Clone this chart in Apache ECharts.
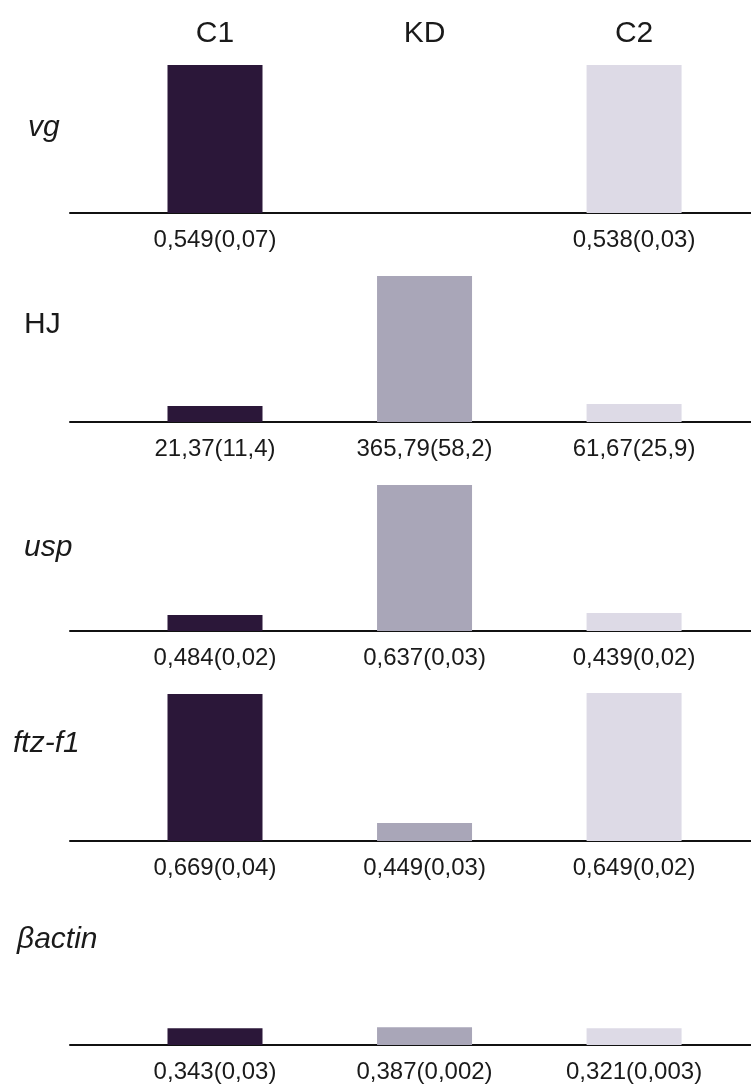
<!DOCTYPE html>
<html>
<head>
<meta charset="utf-8">
<script src="https://cdn.jsdelivr.net/npm/echarts@6/dist/echarts.min.js"></script>
<style>
  html, body { margin: 0; padding: 0; background: #ffffff; }
  #chart { width: 751px; height: 1084px; }
</style>
</head>
<body>
<div id="chart"></div>
<script>
// Sample groups (columns) and genes (rows)
const categories = ['C1', 'KD', 'C2'];
const genes = ['vg', 'HJ', 'usp', 'ftz-f1', 'βactin'];
const geneItalic = [true, false, true, true, true];

// Relative band levels per gene (C1, KD, C2); null = no band
const vgLevels = [100, null, 100];
const hjLevels = [10.8, 98.6, 12.2];
const uspLevels = [10.8, 98.6, 12.2];
const ftzLevels = [99.3, 12.2, 100];
const actinLevels = [11.5, 12.2, 11.5];

// Mean (SD) printed under each band
const vgLabels = ['0,549(0,07)', '', '0,538(0,03)'];
const hjLabels = ['21,37(11,4)', '365,79(58,2)', '61,67(25,9)'];
const uspLabels = ['0,484(0,02)', '0,637(0,03)', '0,439(0,02)'];
const ftzLabels = ['0,669(0,04)', '0,449(0,03)', '0,649(0,02)'];
const actinLabels = ['0,343(0,03)', '0,387(0,002)', '0,321(0,003)'];

const levels = [vgLevels, hjLevels, uspLevels, ftzLevels, actinLevels];
const labels = [vgLabels, hjLabels, uspLabels, ftzLabels, actinLabels];

const barColors = ['#2b1739', '#a9a6b8', '#dddae6'];

// Layout of the five panels
const baselines = [213, 422, 631, 841, 1048];
const panelHeight = 148;
const geneLabelY = [130, 327, 550, 746, 942];
const geneLabelX = [28, 24, 24, 13, 17];
const xMin = -0.692, xMax = 2.558;
const labelFont = 'Liberation Sans, Arial, sans-serif';

const chart = echarts.init(document.getElementById('chart'), null, { renderer: 'canvas' });

const grid = [], xAxis = [], yAxis = [], series = [], graphic = [];

genes.forEach((gene, r) => {
  grid.push({ left: 70, right: 0, top: baselines[r] - panelHeight, height: panelHeight });
  xAxis.push({
    type: 'value', gridIndex: r, min: xMin, max: xMax,
    splitLine: { show: false },
    axisTick: { show: false },
    axisLine: { show: true, onZero: false, lineStyle: { color: '#111111', width: 2 } },
    axisLabel: {
      show: true, customValues: [0, 1, 2], margin: 15,
      color: '#1a1a1a', fontSize: 24, fontFamily: labelFont,
      formatter: (v) => labels[r][Math.round(v)] || ''
    }
  });
  yAxis.push({ type: 'value', gridIndex: r, min: 0, max: 100, show: false });
  series.push({
    type: 'bar', xAxisIndex: r, yAxisIndex: r, barWidth: 95,
    silent: true,
    data: levels[r].map((v, i) => ({
      value: [i, v],
      itemStyle: { color: barColors[i] }
    }))
  });
  graphic.push({
    type: 'text', left: geneLabelX[r], top: geneLabelY[r] - 17,
    style: {
      text: gene, fill: '#1a1a1a',
      font: (geneItalic[r] ? 'italic ' : '') + '30px ' + labelFont
    }
  });
});

// Column headings above the first panel
xAxis.push({
  type: 'value', gridIndex: 0, min: xMin, max: xMax, position: 'top',
  splitLine: { show: false }, axisTick: { show: false }, axisLine: { show: false },
  axisLabel: {
    show: true, customValues: [0, 1, 2], margin: 16,
    color: '#1a1a1a', fontSize: 30, fontFamily: labelFont,
    formatter: (v) => categories[Math.round(v)]
  }
});

chart.setOption({
  animation: false,
  backgroundColor: '#ffffff',
  grid, xAxis, yAxis, series, graphic
});
</script>
</body>
</html>
